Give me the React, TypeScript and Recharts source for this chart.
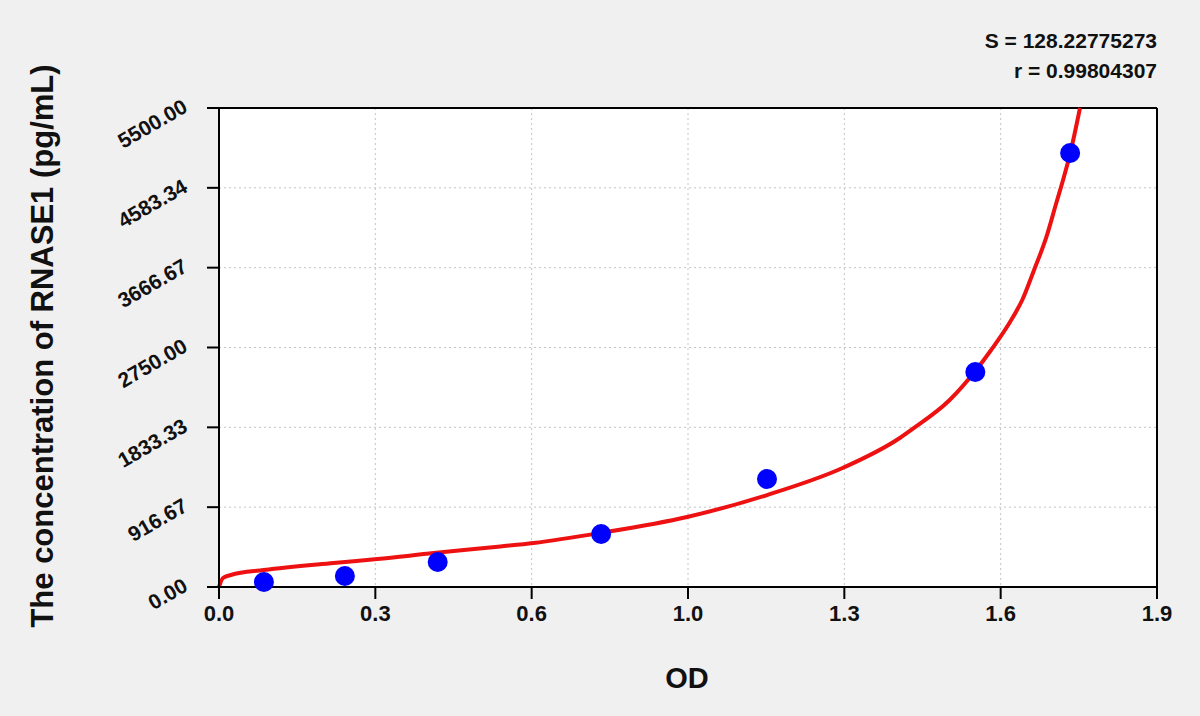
import React from "react";
import {
  ComposedChart,
  Line,
  Scatter,
  XAxis,
  YAxis,
  CartesianGrid,
  ReferenceLine,
} from "recharts";

// standards (OD vs concentration)
const POINT_OD = [0.091, 0.255, 0.443, 0.774, 1.11, 1.532, 1.724];
const POINT_CONC = [57, 126, 287, 609, 1240, 2469, 4983];

// fitted curve
const CURVE_OD = [
  0, 0.008, 0.024, 0.091, 0.232, 0.321, 0.435, 0.57, 0.637, 0.772, 0.948,
  1.11, 1.263, 1.379, 1.405, 1.48, 1.532, 1.564, 1.601, 1.627, 1.651, 1.676,
  1.696, 1.711, 1.724, 1.744,
];
const CURVE_CONC = [
  0, 103, 138, 195, 276, 321, 390, 465, 505, 620, 804, 1056, 1366, 1711, 1815,
  2147, 2480, 2721, 3031, 3295, 3640, 4019, 4409, 4700, 4975, 5500,
];

const X_TICKS = [0, 0.31667, 0.63333, 0.95, 1.26667, 1.58333, 1.9];
const X_LABELS = ["0.0", "0.3", "0.6", "1.0", "1.3", "1.6", "1.9"];
const X_MINOR = [
  0.0792, 0.1583, 0.2375, 0.3958, 0.475, 0.5542, 0.7125, 0.7917, 0.8708,
  1.0292, 1.1083, 1.1875, 1.3458, 1.425, 1.5042, 1.6625, 1.7417, 1.8208,
];

const Y_TICKS = [0, 916.67, 1833.33, 2750, 3666.67, 4583.33, 5500];
const Y_LABELS = ["0.00", "916.67", "1833.33", "2750.00", "3666.67", "4583.34", "5500.00"];
const Y_MINOR = [
  229.17, 458.33, 687.5, 1145.83, 1375, 1604.17, 2062.5, 2291.67, 2520.83,
  2979.17, 3208.33, 3437.5, 3895.83, 4125, 4354.17, 4812.5, 5041.67, 5270.83,
];

const FONT = "'Liberation Sans', Arial, sans-serif";

const points = POINT_OD.map((x, i) => ({ x, y: POINT_CONC[i] }));
const curve = CURVE_OD.map((x, i) => ({ x, y: CURVE_CONC[i] }));

function YTick({ x, y, index }: any) {
  const ax = x - 10;
  const ay = y + 3;
  return (
    <text
      x={ax}
      y={ay}
      textAnchor="end"
      transform={`rotate(-30, ${ax}, ${ay})`}
      fontFamily={FONT}
      fontWeight="bold"
      fontSize={21}
      fill="#111"
    >
      {Y_LABELS[index]}
    </text>
  );
}

function XTick({ x, y, index }: any) {
  return (
    <text
      x={x}
      y={y + 20}
      textAnchor="middle"
      fontFamily={FONT}
      fontWeight="bold"
      fontSize={22}
      fill="#111"
    >
      {X_LABELS[index]}
    </text>
  );
}

function Dot({ cx, cy }: any) {
  return <circle cx={cx} cy={cy} r={10} fill="#0000ff" />;
}

const black = { stroke: "#000", strokeWidth: 2 };

export default function App() {
  return (
    <div
      style={{
        position: "absolute",
        left: 0,
        top: 0,
        width: 1200,
        height: 716,
        background: "#f0f0f0",
        fontFamily: FONT,
        color: "#111",
      }}
    >
      <ComposedChart
        width={1200}
        height={716}
        margin={{ top: 108, right: 43, bottom: 127, left: 217 }}
      >
        <CartesianGrid fill="#ffffff" stroke="#c4c4c4" strokeDasharray="2 3" />
        <XAxis
          xAxisId="minor"
          type="number"
          dataKey="x"
          domain={[0, 1.9]}
          ticks={X_MINOR}
          interval={0}
          height={1}
          axisLine={false}
          tickSize={7}
          tickLine={black}
          tickFormatter={() => ""}
        />
        <XAxis
          type="number"
          dataKey="x"
          domain={[0, 1.9]}
          ticks={X_TICKS}
          interval={0}
          height={1}
          tickSize={12}
          axisLine={black}
          tickLine={black}
          tick={<XTick />}
        />
        <YAxis
          yAxisId="minor"
          type="number"
          domain={[0, 5500]}
          ticks={Y_MINOR}
          interval={0}
          width={1}
          axisLine={false}
          tickSize={7}
          tickLine={black}
          tickFormatter={() => ""}
        />
        <YAxis
          type="number"
          domain={[0, 5500]}
          ticks={Y_TICKS}
          interval={0}
          width={1}
          tickSize={12}
          tickMargin={8}
          axisLine={black}
          tickLine={black}
          tick={<YTick />}
        />
        <ReferenceLine y={5500} stroke="#000" strokeWidth={2} />
        <ReferenceLine x={1.9} stroke="#000" strokeWidth={2} />
        <Scatter
          data={points}
          dataKey="y"
          shape={<Dot />}
          isAnimationActive={false}
        />
        <Line
          data={curve}
          dataKey="y"
          type="monotone"
          stroke="#ee1111"
          strokeWidth={4}
          dot={false}
          activeDot={false}
          isAnimationActive={false}
        />
      </ComposedChart>

      <div
        style={{
          position: "absolute",
          left: 43 - 350,
          top: 346 - 18,
          width: 700,
          height: 36,
          lineHeight: "36px",
          textAlign: "center",
          transform: "rotate(-90deg)",
          fontSize: 31,
          fontWeight: "bold",
        }}
      >
        The concentration of RNASE1 (pg/mL)
      </div>
      <div
        style={{
          position: "absolute",
          left: 587,
          top: 662,
          width: 200,
          textAlign: "center",
          fontSize: 29,
          fontWeight: "bold",
        }}
      >
        OD
      </div>
      <div
        style={{
          position: "absolute",
          right: 43,
          top: 26,
          textAlign: "right",
          fontSize: 21,
          fontWeight: "bold",
          lineHeight: "30px",
        }}
      >
        <div>S = 128.22775273</div>
        <div>r = 0.99804307</div>
      </div>
    </div>
  );
}
